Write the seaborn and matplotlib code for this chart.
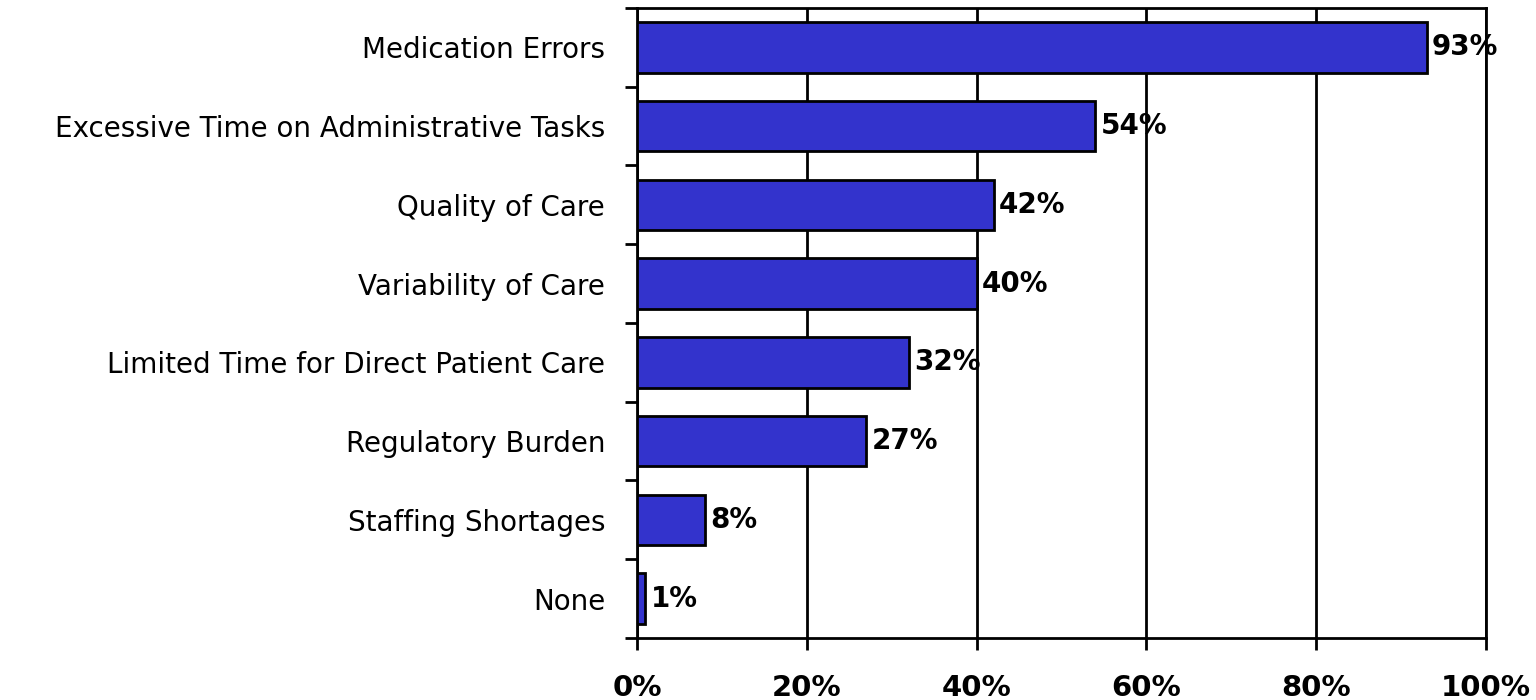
import numpy as np
import matplotlib
matplotlib.use("Agg")
import matplotlib.pyplot as plt
import seaborn as sns

# data
categories = ["Medication Errors",
              "Excessive Time on Administrative Tasks",
              "Quality of Care",
              "Variability of Care",
              "Limited Time for Direct Patient Care",
              "Regulatory Burden",
              "Staffing Shortages",
              "None"]
values = [93, 54, 42, 40, 32, 27, 8, 1]
x_ticks = [0, 20, 40, 60, 80, 100]
x_tick_labels = ["0%", "20%", "40%", "60%", "80%", "100%"]

bar_color = "#3333CC"

sns.set_style("white")
plt.rcParams['font.family'] = ['DejaVu Sans']

fig = plt.figure(figsize=(15.36, 7), dpi=100)
ax = fig.add_axes([0.4147, 0.0886, 0.9674 - 0.4147, 0.9886 - 0.0886])

sns.barplot(x=values, y=categories, orient="h", color=bar_color, saturation=1,
            edgecolor="black", linewidth=2, width=0.64, ax=ax, zorder=3)

# value labels at bar ends
for i, v in enumerate(values):
    ax.text(v + 0.6, i, str(v) + "%", ha="left", va="center",
            fontsize=20, fontweight="bold", color="black", zorder=4)

ax.set_xlim(0, 100)
ax.set_ylim(len(categories) - 0.5, -0.5)
ax.set_xticks(x_ticks)
ax.set_xticklabels(x_tick_labels, fontsize=21, fontweight="bold", color="black")
ax.set_xlabel("")
ax.set_ylabel("")

# category labels, ticks only on the boundaries between rows
ax.set_yticks(np.arange(len(categories)))
ax.set_yticklabels(categories, fontsize=20, color="black")
ax.set_yticks(np.arange(len(categories) + 1) - 0.5, minor=True)
ax.tick_params(axis="y", which="both", left=True)
ax.tick_params(axis="y", which="major", length=0, pad=23)
ax.tick_params(axis="y", which="minor", length=8.6, width=2, direction="out", color="black")
ax.tick_params(axis="x", which="major", bottom=True, length=8.6, width=2,
               direction="out", color="black", pad=17)

# vertical grid
ax.grid(axis="x", color="black", linewidth=2, zorder=0)
ax.grid(axis="y", visible=False)
ax.set_axisbelow(True)

for side in ["left", "right", "top", "bottom"]:
    ax.spines[side].set_visible(True)
    ax.spines[side].set_color("black")
    ax.spines[side].set_linewidth(2)

fig.savefig("out.png", dpi=100, facecolor="white")
